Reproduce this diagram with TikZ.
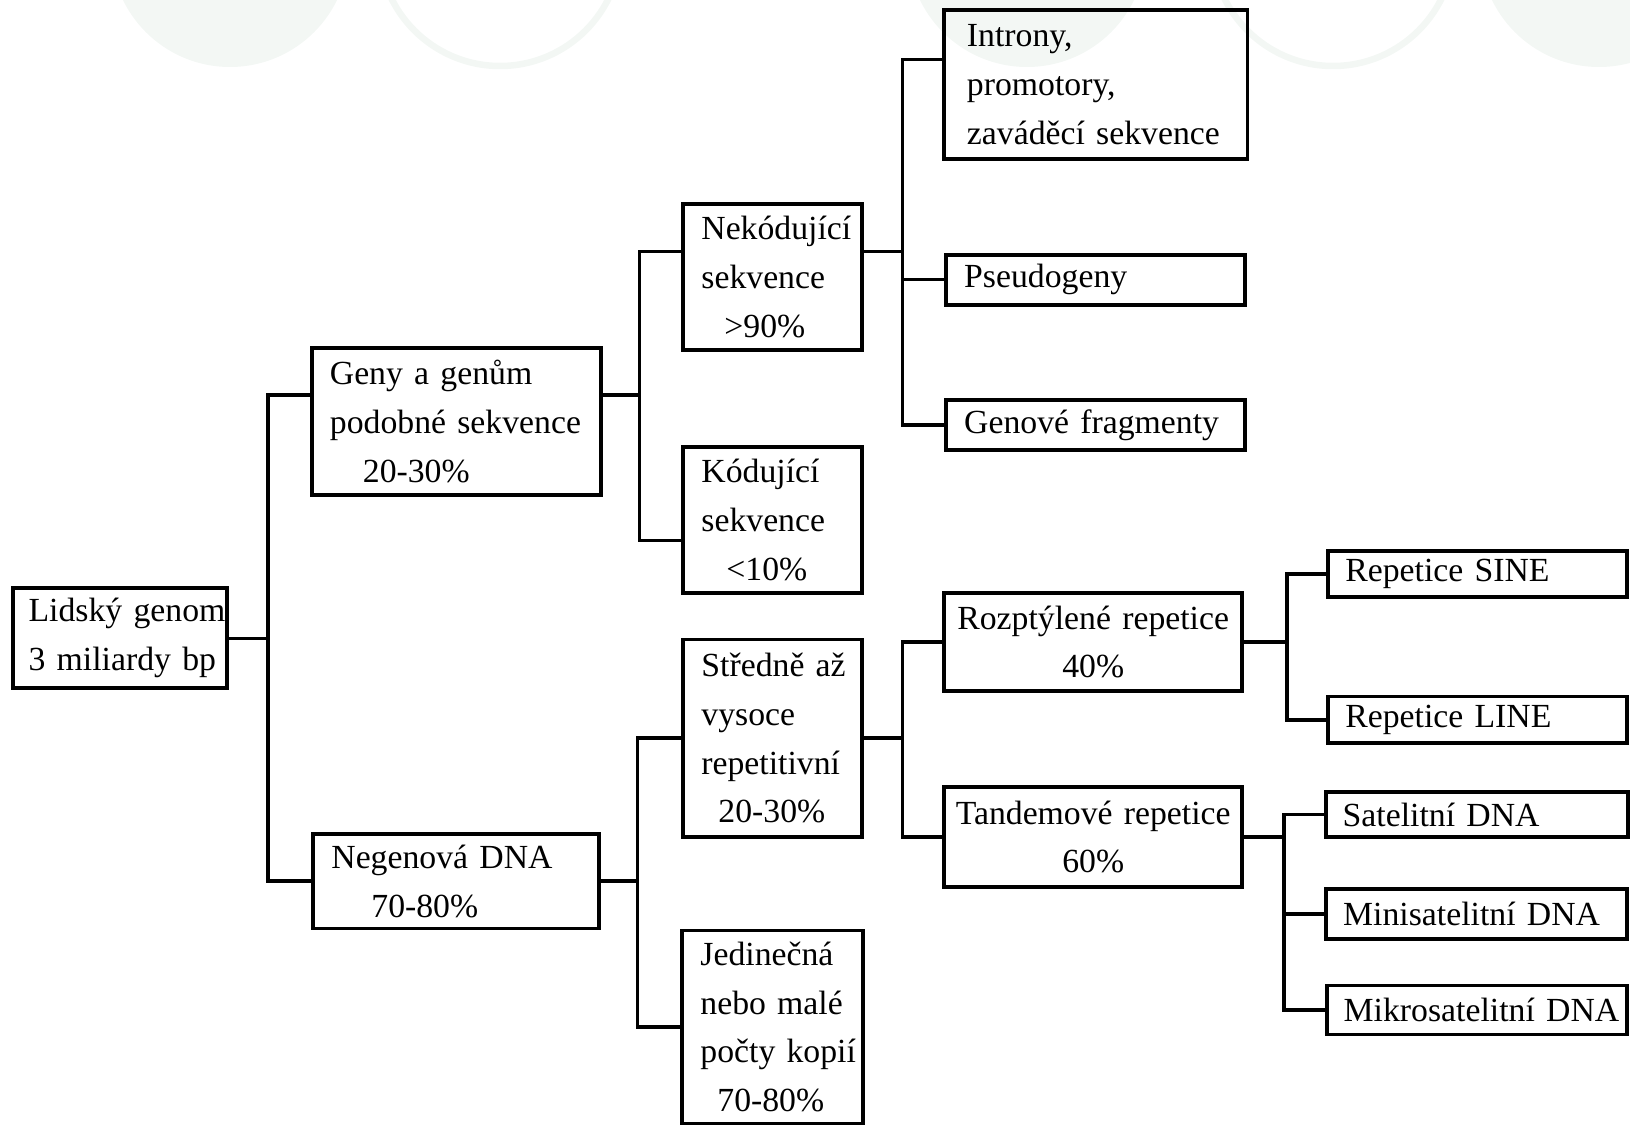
\documentclass[tikz,border=0pt]{standalone}
\usepackage{fontspec}
\setmainfont{Liberation Serif}
\usepackage{tikz}
\usetikzlibrary{positioning,calc}
\definecolor{slidegreen}{RGB}{243,247,244}
\hyphenpenalty=10000
\exhyphenpenalty=10000

\begin{document}
\begin{tikzpicture}[
  font=\fontsize{9.6}{13.9}\selectfont,
  bx/.style={draw, line width=1.1pt, outer sep=0pt, inner xsep=0.18cm, inner ysep=0pt,
             align=left, text width=#1cm},
  ln/.style={line width=1pt},
  dot/.style={fill=slidegreen},
  ring/.style={draw=slidegreen, line width=0.065cm}
]
\useasboundingbox (0,0) rectangle (16.30,-11.26);
% faint circles of the slide template
\begin{scope}
\clip (0,0) rectangle (16.30,-11.26);
\fill[dot] (2.30,0.52) circle (1.19);
\draw[ring] (5.00,0.55) circle (1.21);
\fill[dot] (10.27,0.52) circle (1.19);
\draw[ring] (13.33,0.55) circle (1.21);
\fill[dot] (15.99,0.52) circle (1.19);
\end{scope}

% tree
\node[bx=1.82, inner xsep=0.16cm, minimum height=1.00cm] (genom) at (1.196,-6.383)
  {Lidský~genom\\3~miliardy~bp};
\node[bx=2.53, minimum height=1.466cm] (geny) at (4.564,-4.216)
  {Geny~a~genům\\podobné~sekvence\\\hspace*{0.33cm}20-30\%};
\node[bx=2.50, minimum height=0.946cm, below=3.39 of geny] (negen)
  {Negenová~DNA\\\hspace*{0.40cm}70-80\%};

\node[bx=1.43, minimum height=1.465cm] (nekod) at (7.729,-2.771)
  {Nekódující\\sekvence\\\hspace*{0.23cm}>90\%};
\node[bx=1.43, minimum height=1.456cm, below=0.967 of nekod] (kod)
  {Kódující\\sekvence\\\hspace*{0.25cm}<10\%};
\node[bx=1.43, minimum height=1.975cm, below=0.468 of kod] (stred)
  {Středně~až\\vysoce\\repetitivní\\\hspace*{0.17cm}20-30\%};
\node[bx=1.45, minimum height=1.93cm, below=0.935 of stred] (jedin)
  {Jedinečná\\nebo~malé\\počty~kopií\\\hspace*{0.17cm}70-80\%};

\node[bx=2.575, inner xsep=0.23cm, minimum height=1.487cm] (intr) at (10.957,-0.847)
  {Introny,\\promotory,\\zaváděcí~sekvence};
\node[bx=2.63, minimum height=0.50cm, below=0.956 of intr] (pseudo) {Pseudogeny};
\node[bx=2.63, minimum height=0.50cm, below=0.956 of pseudo] (genfr) {Genové~fragmenty};

\node[bx=2.82, inner xsep=0.08cm, align=center, minimum height=0.987cm] (rozp) at (10.932,-6.420)
  {Rozptýlené~repetice\\40\%};
\node[bx=2.82, inner xsep=0.08cm, align=center, minimum height=0.998cm, below=0.957 of rozp] (tand)
  {Tandemové~repetice\\60\%};

\node[bx=2.65, inner xsep=0.17cm, minimum height=0.457cm] (sine) at (14.778,-5.738) {Repetice~SINE};
\node[bx=2.65, inner xsep=0.17cm, minimum height=0.468cm, below=0.998 of sine] (line) {Repetice~LINE};
\node[bx=2.68, inner xsep=0.17cm, minimum height=0.447cm] (sat) at (14.767,-8.145) {Satelitní~DNA};
\node[bx=2.67, inner xsep=0.17cm, minimum height=0.50cm, below=0.52 of sat] (mini) {Minisatelitní~DNA};
\node[bx=2.66, inner xsep=0.17cm, minimum height=0.49cm, below=0.467 of mini] (mikro) {Mikrosatelitní~DNA};

% trunks
\coordinate (t1) at (2.682,0);
\coordinate (t2) at (6.394,0);
\coordinate (t3) at (6.373,0);
\coordinate (t4) at (9.024,0);
\coordinate (t5) at (9.024,0);
\coordinate (t6) at (12.870,0);
\coordinate (t7) at (12.839,0);

\coordinate (j1) at (genom.east -| t1);
\draw[ln] (genom.east) -- (j1);
\draw[ln] (j1) |- ([yshift=0.266cm]geny.west);
\draw[ln] (j1) |- (negen.west);

\coordinate (j2) at ([yshift=0.266cm]geny.east -| t2);
\draw[ln] ([yshift=0.266cm]geny.east) -- (j2);
\draw[ln] (j2) |- ([yshift=0.255cm]nekod.west);
\draw[ln] (j2) |- ([yshift=-0.208cm]kod.west);

\coordinate (j3) at (negen.east -| t3);
\draw[ln] (negen.east) -- (j3);
\draw[ln] (j3) |- (stred.west);
\draw[ln] (j3) |- (jedin.west);

\coordinate (j4) at ([yshift=0.255cm]nekod.east -| t4);
\draw[ln] ([yshift=0.255cm]nekod.east) -- (j4);
\draw[ln] (j4) |- ([yshift=0.254cm]intr.west);
\draw[ln] (j4) |- (pseudo.west);
\draw[ln] (j4) |- (genfr.west);

\coordinate (j5) at (stred.east -| t5);
\draw[ln] (stred.east) -- (j5);
\draw[ln] (j5) |- (rozp.west);
\draw[ln] (j5) |- (tand.west);

\coordinate (j6) at (rozp.east -| t6);
\draw[ln] (rozp.east) -- (j6);
\draw[ln] (j6) |- (sine.west);
\draw[ln] (j6) |- (line.west);

\coordinate (j7) at (tand.east -| t7);
\draw[ln] (tand.east) -- (j7);
\draw[ln] (j7) |- (sat.west);
\draw[ln] (j7) |- (mini.west);
\draw[ln] (j7) |- (mikro.west);
\end{tikzpicture}
\end{document}
